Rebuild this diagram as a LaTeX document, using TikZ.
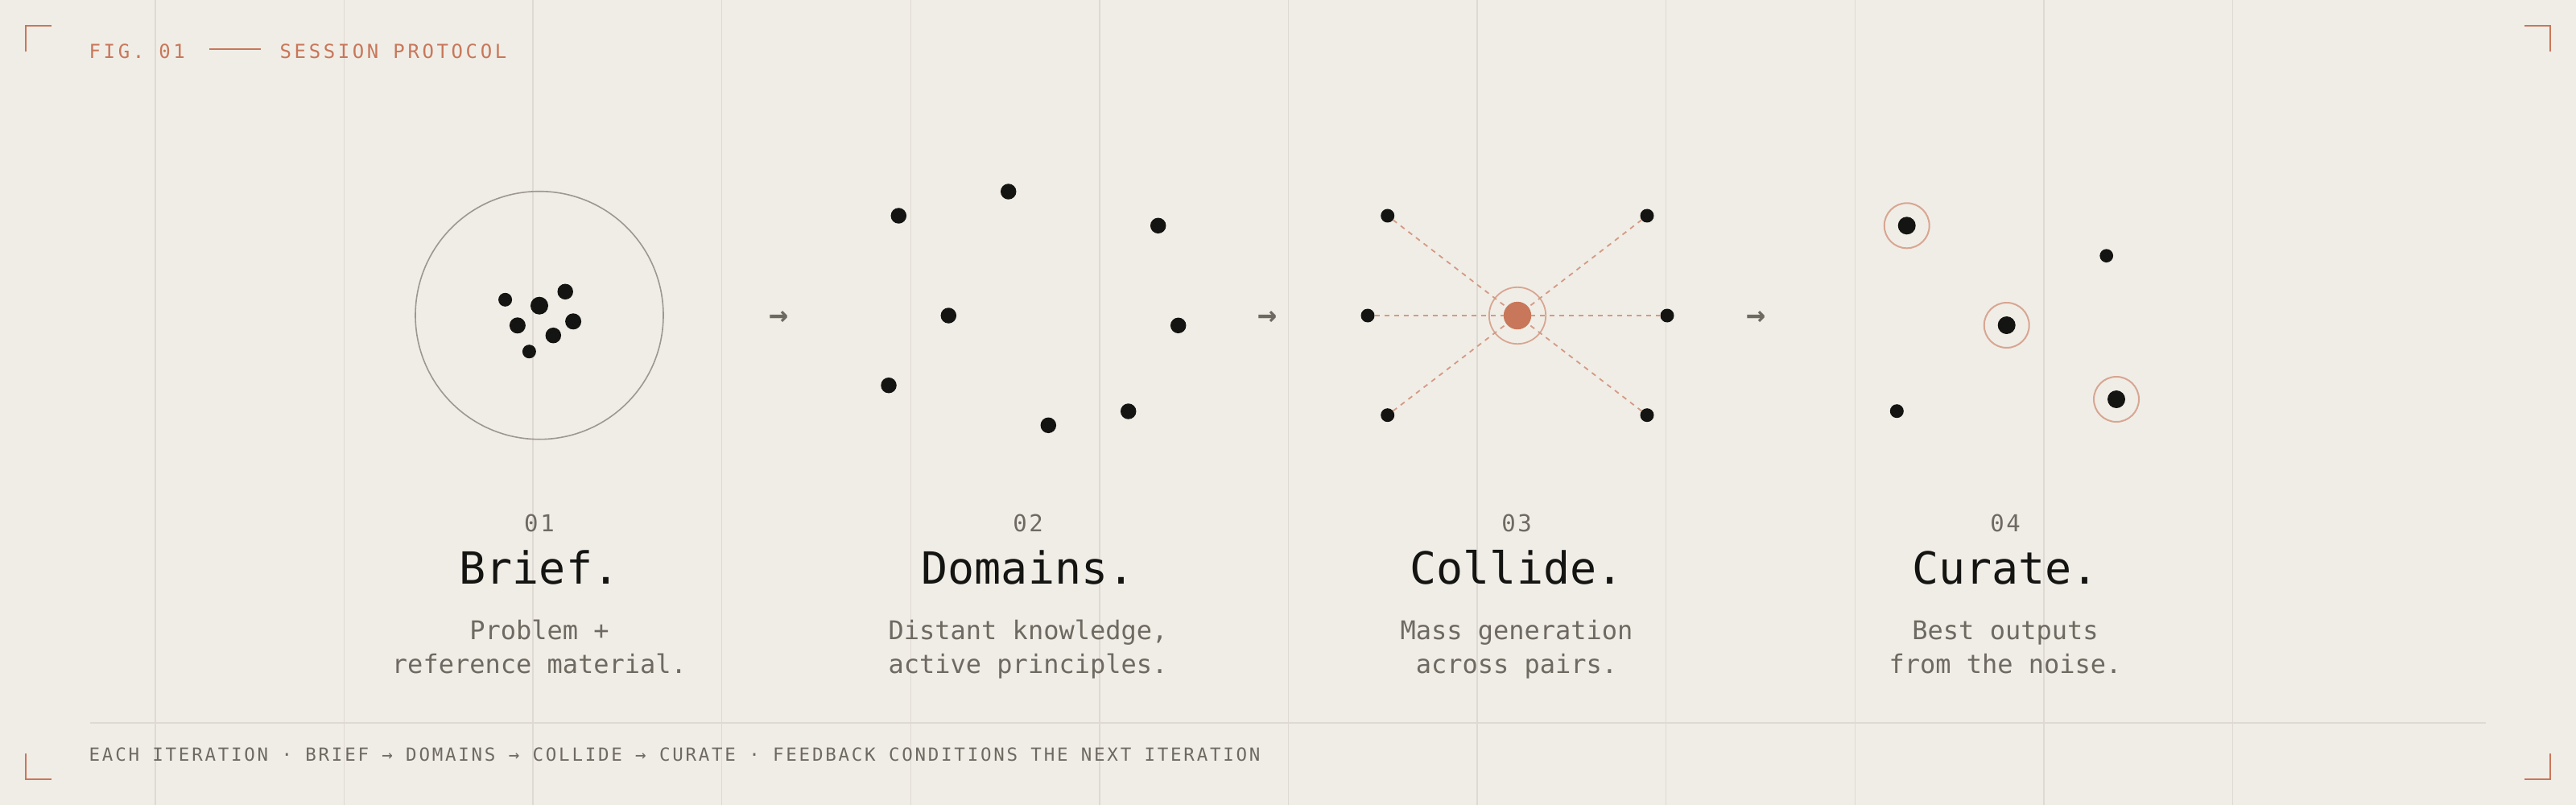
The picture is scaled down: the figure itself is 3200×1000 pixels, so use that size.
\documentclass[tikz,border=0pt]{standalone}
\usepackage{fontspec}
\newfontfamily\mono{DejaVu Sans Mono}
\newfontfamily\monoH[LetterSpace=15]{DejaVu Sans Mono}
\newfontfamily\monoF[LetterSpace=12.2]{DejaVu Sans Mono}
\newfontfamily\monoN[LetterSpace=9]{DejaVu Sans Mono}
\definecolor{bg}{HTML}{F0EDE6}
\definecolor{gridc}{HTML}{DEDAD3}
\definecolor{accent}{HTML}{C8775A}
\definecolor{ink}{HTML}{141412}
\definecolor{muted}{HTML}{6E6A62}
\definecolor{circ}{HTML}{9C9891}
\tikzset{
  gridline/.style={draw=gridc, line width=1.5pt},
  corner/.style={draw=accent, line width=2.2pt},
  blob/.style={circle, fill=ink, inner sep=0pt, outer sep=0pt, minimum size=#1},
  halo/.style={circle, draw=accent!60!bg, line width=2pt, inner sep=0pt, minimum size=#1},
  spoke/.style={draw=accent!70!bg, line width=1.8pt, dash pattern=on 6pt off 6pt},
  hdr/.style={inner sep=0pt, anchor=base west, text=accent, font=\monoH\fontsize{24}{28}\selectfont},
  ftr/.style={inner sep=0pt, anchor=base west, text=muted, font=\monoF\fontsize{22.5}{26}\selectfont},
  num/.style={inner sep=0pt, anchor=base, text=muted, font=\monoN\fontsize{29}{32}\selectfont},
  ttl/.style={inner sep=0pt, anchor=base, text=ink, font=\mono\fontsize{55}{60}\selectfont},
  dsc/.style={inner sep=0pt, anchor=base, text=muted, font=\mono\fontsize{32}{40}\selectfont},
  flow/.style={inner sep=0pt, anchor=base, text=muted, font=\mono\bfseries\fontsize{40}{44}\selectfont},
}
\begin{document}
\begin{tikzpicture}[x=1pt,y=-1pt]
\useasboundingbox (0,0) rectangle (3200,1000);
\fill[bg] (0,0) rectangle (3200,1000);
% grid
\foreach \i in {0,...,11}{
  \draw[gridline] ({192.9+234.6*\i},0) -- ({192.9+234.6*\i},1000);
}
% corners
\draw[corner] (32,64) -- (32,32) -- (64,32);
\draw[corner] (3136,32) -- (3168,32) -- (3168,64);
\draw[corner] (32,936) -- (32,968) -- (64,968);
\draw[corner] (3136,968) -- (3168,968) -- (3168,936);
% header
\node[hdr] (fig) at (110.5,72.3) {FIG. 01};
\node[hdr] (sess) at (347.5,72.3) {SESSION PROTOCOL};
\draw[draw=accent, line width=2pt] (260,61) -- (324,61);
% footer rule + text
\draw[draw=gridc, line width=2pt] (112,897.5) -- (3088,897.5);
\node[ftr] (foot) at (110.5,945) {EACH ITERATION · BRIEF → DOMAINS → COLLIDE → CURATE · FEEDBACK CONDITIONS THE NEXT ITERATION};

% panel 1
\node[circle, draw=circ, line width=1.6pt, inner sep=0pt, minimum size=308pt] (frame1) at (670,391.7) {};
\node[blob=17pt] (p1a) at (627.6,372.3) {};
\node[blob=22pt] (p1b) at (670,379.7) {};
\node[blob=19.5pt] (p1c) at (702.2,362.3) {};
\node[blob=20pt] (p1d) at (642.9,404.3) {};
\node[blob=20pt] (p1e) at (712.1,399.3) {};
\node[blob=19.5pt] (p1f) at (687.3,416.7) {};
\node[blob=17pt] (p1g) at (657.4,436.7) {};

% panel 2
\node[blob=19.5pt] (p2a) at (1116.3,268) {};
\node[blob=19.5pt] (p2b) at (1252.7,238) {};
\node[blob=19.5pt] (p2c) at (1438.7,280.3) {};
\node[blob=19.5pt] (p2d) at (1178.3,392) {};
\node[blob=19.5pt] (p2e) at (1463.7,404.3) {};
\node[blob=19.5pt] (p2f) at (1104,478.7) {};
\node[blob=19.5pt] (p2g) at (1302.3,528.3) {};
\node[blob=19.5pt] (p2h) at (1401.7,511) {};

% panel 3
\node[blob=17pt] (p3tl) at (1723.7,268) {};
\node[blob=17pt] (p3tr) at (2046,268) {};
\node[blob=17pt] (p3l) at (1699,392) {};
\node[blob=17pt] (p3r) at (2071,392) {};
\node[blob=17pt] (p3bl) at (1723.7,515.7) {};
\node[blob=17pt] (p3br) at (2046,515.7) {};
\node[circle, fill=accent, inner sep=0pt, outer sep=0pt, minimum size=34.4pt] (p3c) at (1885,392) {};
\node[halo=70.4pt, line width=1.8pt] (p3ring) at (1885,392) {};
\foreach \o in {p3tl,p3tr,p3l,p3r,p3bl,p3br}{
  \draw[spoke] (\o) -- (p3c);
}

% panel 4
\node[blob=22pt] (p4a) at (2368.7,280.3) {};
\node[halo=56pt] (p4ar) at (p4a) {};
\node[blob=22pt] (p4b) at (2492.7,404) {};
\node[halo=56pt] (p4br) at (p4b) {};
\node[blob=22pt] (p4c) at (2629,496) {};
\node[halo=56pt] (p4cr) at (p4c) {};
\node[blob=16.7pt] (p4d) at (2616.7,317.7) {};
\node[blob=17pt] (p4e) at (2356.3,510.7) {};

% flow arrows
\node[flow] (ar1) at (968,404.5) {→};
\node[flow] (ar2) at (1575,404.5) {→};
\node[flow] (ar3) at (2182,404.5) {→};

% captions
\node[num] (n1) at (670,660.7) {01};
\node[ttl] (t1) at (670,725) {Brief.};
\node[dsc] (d1a) at (670,794) {Problem +};
\node[dsc] (d1b) at (670,836.7) {reference material.};

\node[num] (n2) at (1277,660.7) {02};
\node[ttl] (t2) at (1277,725) {Domains.};
\node[dsc] (d2a) at (1277,794) {Distant knowledge,};
\node[dsc] (d2b) at (1277,836.7) {active principles.};

\node[num] (n3) at (1884,660.7) {03};
\node[ttl] (t3) at (1884,725) {Collide.};
\node[dsc] (d3a) at (1884,794) {Mass generation};
\node[dsc] (d3b) at (1884,836.7) {across pairs.};

\node[num] (n4) at (2491,660.7) {04};
\node[ttl] (t4) at (2491,725) {Curate.};
\node[dsc] (d4a) at (2491,794) {Best outputs};
\node[dsc] (d4b) at (2491,836.7) {from the noise.};
\end{tikzpicture}
\end{document}
